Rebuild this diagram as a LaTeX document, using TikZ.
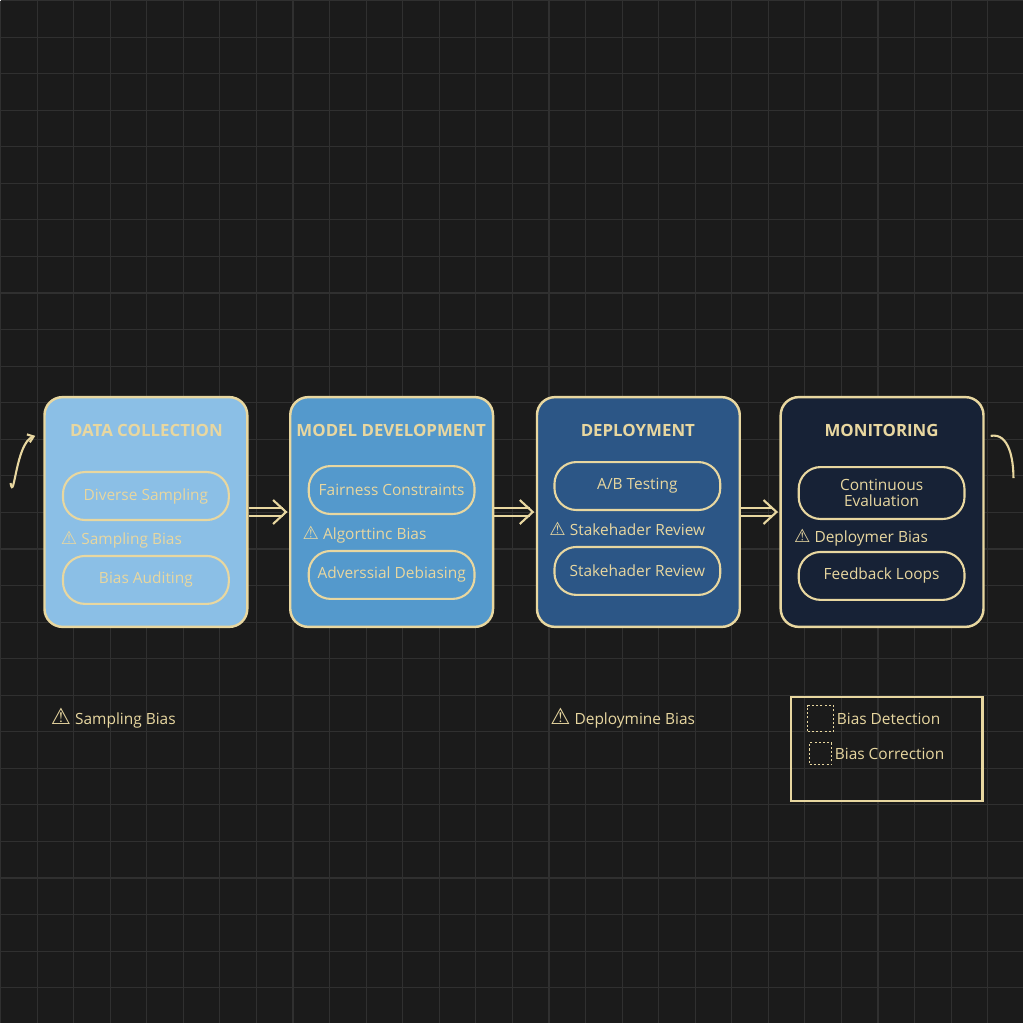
\documentclass[tikz,border=0pt]{standalone}
\usepackage{fontspec}
\setmainfont{Open Sans}
\newfontfamily\symfont{DejaVu Sans}
\usetikzlibrary{arrows.meta}
\definecolor{bgdark}{HTML}{1B1B1B}
\definecolor{gridc}{HTML}{303030}
\definecolor{gold}{HTML}{E8D7A0}
\definecolor{stageA}{HTML}{8BBFE6}
\definecolor{stageB}{HTML}{5499CC}
\definecolor{stageC}{HTML}{2C5686}
\definecolor{stageD}{HTML}{172236}
\tikzset{
  stage/.style={draw=gold,line width=3.5pt,rounded corners=0.9cm,minimum width=10.15cm,minimum height=11.5cm},
  title/.style={text=gold,font=\fontsize{24}{27}\selectfont\bfseries},
  pill/.style={draw=gold,line width=3pt,rounded corners=1.1cm,minimum width=8.3cm,minimum height=2.4cm,
    text=gold,font=\fontsize{22}{26}\selectfont,align=center},
  warn/.style={text=gold,font=\fontsize{22}{26}\selectfont},
  flow/.style={gold,line width=3pt},
}
\newcommand{\wsign}{{\fontsize{26}{28}\selectfont\symfont\char"26A0}}
\begin{document}
\begin{tikzpicture}[x=0.05cm,y=-0.05cm]
\fill[bgdark] (0,0) rectangle (1024,1024);
\foreach \g in {0,36.6,...,1024}{
  \draw[gridc,line width=1.6pt] (\g,0) -- (\g,1024);
  \draw[gridc,line width=1.6pt] (0,\g) -- (1024,\g);
}
\useasboundingbox (0,0) rectangle (1024,1024);

% stages
\node[stage,fill=stageA] (collect) at (145.5,512) {};
\node[stage,fill=stageB] (develop) at (391.5,512) {};
\node[stage,fill=stageC] (deploy) at (638.5,512) {};
\node[stage,fill=stageD] (monitor) at (882.5,512) {};

\node[title] at (146,430) {DATA COLLECTION};
\node[title] at (391,430) {MODEL DEVELOPMENT};
\node[title] at (638,430) {DEPLOYMENT};
\node[title] at (882,430) {MONITORING};

\node[pill] (diverse) at (145.5,496) {Diverse Sampling};
\node[warn,anchor=west] (sampwarn) at (58,540) {\wsign\ Sampling Bias};
\node[pill] (audit) at (145.5,580) {Bias Auditing};

\node[pill] (fair) at (391.5,490) {Fairness Constraints};
\node[warn,anchor=west] (algowarn) at (300,535) {\wsign\ Algorttinc Bias};
\node[pill] (advers) at (391.5,575) {Adverssial Debiasing};

\node[pill] (abtest) at (637.5,486) {A/B Testing};
\node[warn,anchor=west] (stakewarn) at (547,529) {\wsign\ Stakehader Review};
\node[pill] (stake) at (637.5,571) {Stakehader Review};

\node[pill,minimum height=2.6cm] (contin) at (882,493) {Continuous\\[-4pt]Evaluation};
\node[warn,anchor=west] (depwarn) at (792,538) {\wsign\ Deploymer Bias};
\node[pill] (feed) at (882,576) {Feedback Loops};

% connectors
\foreach \a/\b in {collect/develop,develop/deploy,deploy/monitor}{
  \draw[flow] ([yshift=-0.2cm]\a.east) -- ([xshift=-0.3cm,yshift=-0.2cm]\b.west);
  \draw[flow] ([yshift=0.2cm]\a.east) -- ([xshift=-0.3cm,yshift=0.2cm]\b.west);
  \draw[flow,line join=miter] ([xshift=-0.8cm,yshift=-0.6cm]\b.west) -- ([xshift=-0.15cm]\b.west) -- ([xshift=-0.8cm,yshift=0.6cm]\b.west);
}
\coordinate (loopin) at (10,483);
\coordinate (loopout) at (1014,478);
\draw[flow,-{Straight Barb[length=8pt,width=12pt]}] (loopin) to[out=-80,in=200] ([xshift=-0.4cm,yshift=-2cm]collect.north west);
\draw[flow] ([xshift=0.3cm,yshift=-2cm]monitor.north east) to[out=10,in=90] (loopout);

% bottom notes
\node[warn,anchor=west] (sampnote) at (48,718) {{\fontsize{32}{34}\selectfont\symfont\char"26A0}\ Sampling Bias};
\node[warn,anchor=west] (depnote) at (548,718) {{\fontsize{32}{34}\selectfont\symfont\char"26A0}\ Deploymine Bias};

% legend
\node[draw=gold,line width=3pt,minimum width=9.6cm,minimum height=5.2cm] (legend) at (887,749) {};
\node[draw=gold,dashed,line width=2pt,minimum size=1.3cm] (detbox) at (821,719) {};
\node[draw=gold,dashed,line width=2pt,minimum size=1.1cm] (corbox) at (821,754) {};
\node[warn,anchor=west] at (detbox.east) {Bias Detection};
\node[warn,anchor=west] at (corbox.east) {Bias Correction};
\end{tikzpicture}
\end{document}
